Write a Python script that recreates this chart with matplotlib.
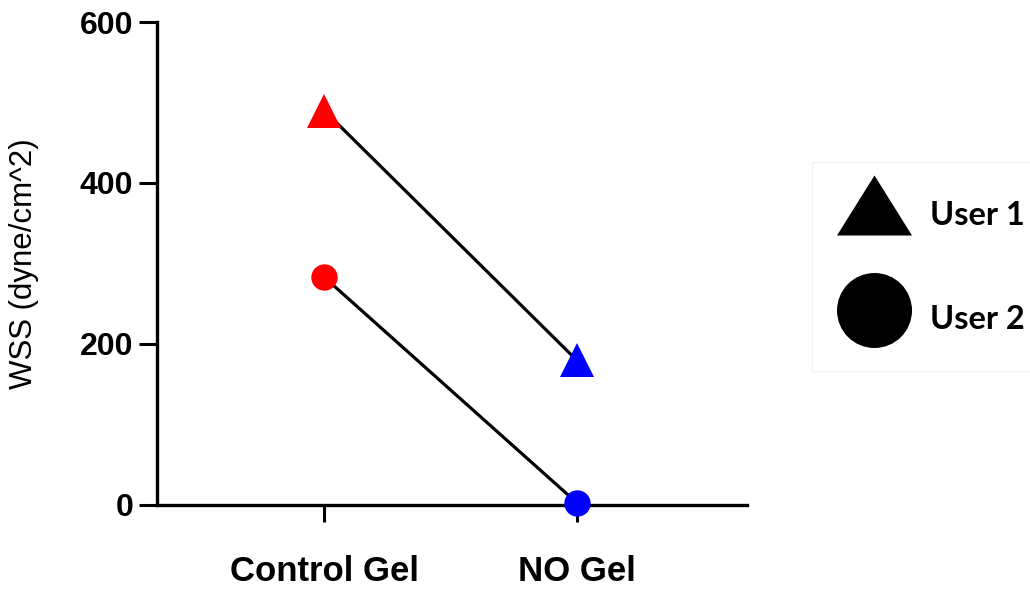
import matplotlib
matplotlib.use("Agg")
import matplotlib.pyplot as plt
from matplotlib.lines import Line2D

groups = ["Control Gel", "NO Gel"]
user1 = [490, 180]
user2 = [283, 3]
group_colors = ["#ff0000", "#0000ff"]
yticks = [0, 200, 400, 600]

fig = plt.figure(figsize=(10.3, 5.9), dpi=100)
ax = fig.add_axes([0.1524, 0.1441, 0.5728, 0.8186])

xs = list(range(len(groups)))

# connecting lines, drawn under the markers
ax.plot(xs, user1, color="black", lw=2.3, zorder=2, solid_capstyle="butt")
ax.plot(xs, user2, color="black", lw=2.3, zorder=2, solid_capstyle="butt")

for i in xs:
    ax.plot(i, user1[i], marker="^", ms=24, color=group_colors[i], mew=0,
            ls="none", zorder=4, clip_on=False)
    ax.plot(i, user2[i], marker="o", ms=19, color=group_colors[i], mew=0,
            ls="none", zorder=4, clip_on=False)

ax.set_xlim(-0.663, 1.675)
ax.set_ylim(0, 600)
ax.set_xticks(xs)
ax.set_xticklabels(groups)
ax.set_yticks(yticks)

for side in ["top", "right"]:
    ax.spines[side].set_visible(False)
for side in ["left", "bottom"]:
    ax.spines[side].set_linewidth(2.4)
    ax.spines[side].set_zorder(3)

ax.tick_params(axis="y", length=13, width=2.2, pad=4)
ax.tick_params(axis="x", length=12, width=2.2, pad=24)
for lab in ax.get_yticklabels():
    lab.set_fontfamily("Liberation Sans")
    lab.set_fontweight("bold")
    lab.set_fontsize(23)
for lab in ax.get_xticklabels():
    lab.set_fontfamily("Liberation Sans")
    lab.set_fontweight("bold")
    lab.set_fontsize(25)

ax.set_ylabel("WSS (dyne/cm^2)", fontfamily="Liberation Sans", fontsize=22.5)
ax.yaxis.set_label_coords(-0.2, 0.5)

tri = [(-1, -0.8), (1, -0.8), (0, 0.8)]
handles = [
    Line2D([], [], marker=tri, ms=54, color="black", mew=0, ls="none"),
    Line2D([], [], marker="o", ms=54, color="black", mew=0, ls="none"),
]
leg = fig.legend(handles, ["User 1", "User 2"], loc="upper left",
                 bbox_to_anchor=(812 / 1030, 1 - 162 / 590),
                 borderaxespad=0, frameon=True, fancybox=False,
                 edgecolor="#f0f0f0", facecolor="white",
                 prop={"family": "Lato", "weight": "bold", "size": 23.5},
                 handlelength=2.3, handleheight=2.25, labelspacing=1.5,
                 handletextpad=0.55, borderpad=0.75)
leg.get_frame().set_linewidth(1.0)

fig.savefig("out.png", dpi=100)
